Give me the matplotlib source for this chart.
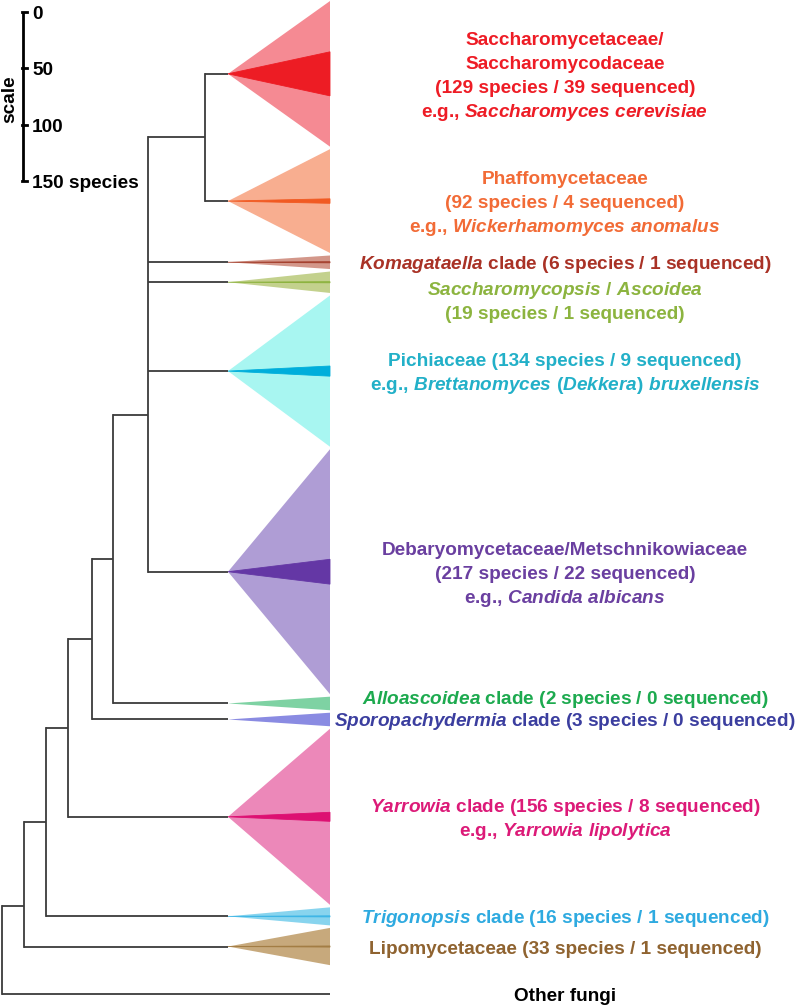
import matplotlib
matplotlib.use('Agg')
import matplotlib.pyplot as plt

# Шрифти: жирний Arial-подібний, курсив для назв родів через mathtext
plt.rcParams['font.family'] = ['Liberation Sans', 'DejaVu Sans']
plt.rcParams['font.weight'] = 'bold'
plt.rcParams['mathtext.fontset'] = 'custom'
plt.rcParams['mathtext.it'] = 'Liberation Sans:italic:bold'
plt.rcParams['mathtext.rm'] = 'Liberation Sans:bold'

# Дані кладів (згори донизу)
species = [129, 92, 6, 19, 134, 217, 2, 3, 156, 16, 33]
sequenced = [39, 4, 1, 1, 9, 22, 0, 0, 8, 1, 1]
labels = [
    ['Saccharomycetaceae/', 'Saccharomycodaceae', '(<n> species / <s> sequenced)',
     r'e.g., $\mathit{Saccharomyces\ cerevisiae}$'],
    ['Phaffomycetaceae', '(<n> species / <s> sequenced)',
     r'e.g., $\mathit{Wickerhamomyces\ anomalus}$'],
    [r'$\mathit{Komagataella}$ clade (<n> species / <s> sequenced)'],
    [r'$\mathit{Saccharomycopsis\ /\ Ascoidea}$', '(<n> species / <s> sequenced)'],
    ['Pichiaceae (<n> species / <s> sequenced)',
     r'e.g., $\mathit{Brettanomyces\ (Dekkera)\ bruxellensis}$'],
    ['Debaryomycetaceae/Metschnikowiaceae', '(<n> species / <s> sequenced)',
     r'e.g., $\mathit{Candida\ albicans}$'],
    [r'$\mathit{Alloascoidea}$ clade (<n> species / <s> sequenced)'],
    [r'$\mathit{Sporopachydermia}$ clade (<n> species / <s> sequenced)'],
    [r'$\mathit{Yarrowia}$ clade (<n> species / <s> sequenced)',
     r'e.g., $\mathit{Yarrowia\ lipolytica}$'],
    [r'$\mathit{Trigonopsis}$ clade (<n> species / <s> sequenced)'],
    ['Lipomycetaceae (<n> species / <s> sequenced)'],
]
outgroup_label = 'Other fungi'
scale_ticks = [0, 50, 100, 150]

light_colors = ['#F58A93', '#F8AE90', '#D3978A', '#C3D18D', '#A8F6F1', '#AF9DD5',
                '#7ED2A3', '#8A8BE2', '#EC88B9', '#88D4EE', '#C7A97C']
dark_colors = ['#ED1C24', '#F15A22', '#A5412F', '#8DB33F', '#00AEDB', '#6437A5',
               '#1DAA4F', '#3B3E9F', '#DD1072', '#3EB6E6', '#A37D44']
text_colors = ['#EE1C25', '#F26B36', '#A93226', '#8CB43F', '#22B0C8', '#6A3FA0',
               '#1DAA4F', '#3B3E9F', '#DC1A78', '#2EAAE0', '#8F6330']

# Розмітка (пікселі по x, одиниці "видів" по y)
APEX_X, RIGHT_X, TEXT_X = 228, 330, 565
MIN_H, GAP = 12, 2.2
LINE_H = 21.2
BASE_OFF = 6.2   # від візуального центру рядка до базової лінії
FS = 13.7
label_shift = {3: 15.5, 6: -5.5}
TREE_COLOR = '#3c3c3c'

# Дерево: (x вузла, частка положення, нащадки); 'out' - зовнішня група
tree = (2, 0.5, [
    (24, 0.67, [
        (46, 0.5, [
            (68, 0.5, [
                (92, 0.5, [
                    (113, 0.5, [
                        (148, 0.64, [(205, 0.5, [0, 1]), 2, 3, 4, 5]),
                        6]),
                    7]),
                8]),
            9]),
        10]),
    'out'])

fig = plt.figure(figsize=(8, 10.05), dpi=100)
ax = fig.add_axes([0, 0, 1, 1])
ax.set_xlim(0, 800)
ax.set_ylim(889.3, -0.9)
ax.axis('off')

# Положення трикутників
centers = []
y = 0
for i, n in enumerate(species):
    h = max(n, MIN_H)
    c = y + h / 2
    centers.append(c)
    ax.fill([APEX_X, RIGHT_X, RIGHT_X], [c, y, y + h], color=light_colors[i], lw=0)
    s = sequenced[i]
    if s > 0:
        ax.fill([APEX_X, RIGHT_X, RIGHT_X], [c, c - s / 2, c + s / 2],
                color=dark_colors[i], lw=0.6, ec=dark_colors[i])
    y += h + GAP
outgroup_y = y - GAP + 25.5


def draw(node):
    if node == 'out':
        return outgroup_y, RIGHT_X
    if isinstance(node, int):
        return centers[node], APEX_X
    x, frac, children = node
    ys = []
    for ch in children:
        cy, cx = draw(ch)
        ax.plot([x, cx], [cy, cy], color=TREE_COLOR, lw=1.3, solid_capstyle='butt')
        ys.append(cy)
    lo, hi = min(ys), max(ys)
    ax.plot([x, x], [lo, hi], color=TREE_COLOR, lw=1.3, solid_capstyle='projecting')
    return lo + frac * (hi - lo), x


draw(tree)

# Підписи кладів
for i, lines in enumerate(labels):
    c = centers[i] + label_shift.get(i, 0)
    k = len(lines)
    for j, line in enumerate(lines):
        ly = c + (j - (k - 1) / 2) * LINE_H
        txt = line.replace('<n>', str(species[i])).replace('<s>', str(sequenced[i]))
        ax.text(TEXT_X, ly + BASE_OFF, txt, color=text_colors[i], fontsize=FS,
                ha='center', va='baseline')
ax.text(TEXT_X, outgroup_y + BASE_OFF, outgroup_label, color='black', fontsize=FS,
        ha='center', va='baseline')

# Шкала
SCALE_X, SCALE_Y0 = 22.5, 9.7
ax.plot([SCALE_X, SCALE_X], [SCALE_Y0 + scale_ticks[0], SCALE_Y0 + scale_ticks[-1]],
        color='black', lw=2, solid_capstyle='butt')
for t in scale_ticks:
    ax.plot([SCALE_X - 0.7, SCALE_X + 4], [SCALE_Y0 + t, SCALE_Y0 + t], color='black', lw=2)
    lab = f'{t} species' if t == scale_ticks[-1] else str(t)
    ax.text(32, SCALE_Y0 + t + BASE_OFF, lab, fontsize=FS, ha='left', va='baseline')
ax.text(10, SCALE_Y0 + 77, 'scale', fontsize=FS, rotation=90, ha='center', va='center')

fig.savefig('out.png', dpi=100)
